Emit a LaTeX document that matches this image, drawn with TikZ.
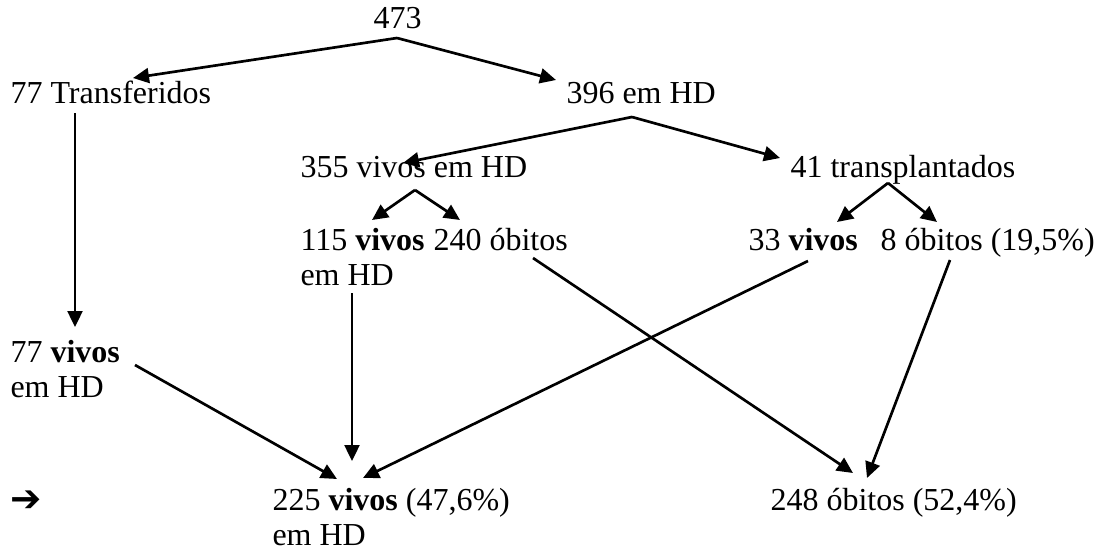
\documentclass[tikz,border=0pt]{standalone}
\usepackage{fontspec}
\setmainfont{Liberation Serif}
\newfontfamily\symfont{DejaVu Sans}
\usetikzlibrary{arrows.meta}
\tikzset{
    lbl/.style={anchor=base west, inner sep=0pt, align=left, font=\fontsize{12}{13.3}\selectfont},
    arrow/.style={-{Triangle[length=6pt, width=5.6pt]}, black, line width=1pt}
}
\begin{document}
\begin{tikzpicture}[x=0.375pt, y=-0.375pt]
    \useasboundingbox (0,0) rectangle (1102,550);
    % first level
    \node (total) [lbl] at (373,28) {473};
    \node (transf) [lbl] at (10,103) {77 Transferidos};
    \node (hd) [lbl] at (566,103) {396 em HD};
    % second level (two-line nodes sit on their last line)
    \node (vivhd) [lbl] at (300,177) {355 vivos em HD};
    \node (transp) [lbl] at (790,177) {41 transplantados};
    \node (vivA) [lbl] at (300,285.5) {115 \textbf{vivos}\\em HD};
    \node (obA) [lbl] at (433,250) {240 óbitos};
    \node (vivB) [lbl] at (748,250) {33 \textbf{vivos}};
    \node (obB) [lbl] at (880,250) {8 óbitos (19,5\%)};
    \node (vivT) [lbl] at (10,397.5) {77 \textbf{vivos}\\em HD};
    % totals
    \node (mark) [lbl, font=\fontsize{14}{14}\symfont] at (10,511) {➔};
    \node (vivtot) [lbl] at (272,545.5) {225 \textbf{vivos} (47,6\%)\\em HD};
    \node (obtot) [lbl] at (770,510) {248 óbitos (52,4\%)};

    \draw [arrow] ([shift={(24,10)}]total.base west) -- ([shift={(123,-25)}]transf.base west);
    \draw [arrow] ([shift={(24,10)}]total.base west) -- ([shift={(-10,-23)}]hd.base west);
    \draw [arrow] ([shift={(66,14)}]hd.base west) -- ([shift={(103,-14)}]vivhd.base west);
    \draw [arrow] ([shift={(66,14)}]hd.base west) -- ([shift={(-10,-19)}]transp.base west);
    \draw [arrow] ([shift={(115,13)}]vivhd.base west) -- ([shift={(72,-65.5)}]vivA.base west);
    \draw [arrow] ([shift={(115,13)}]vivhd.base west) -- ([shift={(27,-30)}]obA.base west);
    \draw [arrow] ([shift={(98,6)}]transp.base west) -- ([shift={(89,-28)}]vivB.base west);
    \draw [arrow] ([shift={(98,6)}]transp.base west) -- ([shift={(57,-28)}]obB.base west);
    \draw [arrow] ([shift={(65,10)}]transf.base west) -- ([shift={(65,-70.5)}]vivT.base west);
    \draw [arrow] ([shift={(52,7.5)}]vivA.base west) -- ([shift={(80,-84.5)}]vivtot.base west);
    \draw [arrow] ([shift={(125,-32.5)}]vivT.base west) -- ([shift={(65,-66.5)}]vivtot.base west);
    \draw [arrow] ([shift={(60,11)}]vivB.base west) -- ([shift={(91,-67.5)}]vivtot.base west);
    \draw [arrow] ([shift={(100,8)}]obA.base west) -- ([shift={(83,-37)}]obtot.base west);
    \draw [arrow] ([shift={(70,10)}]obB.base west) -- ([shift={(97,-32)}]obtot.base west);
\end{tikzpicture}
\end{document}
